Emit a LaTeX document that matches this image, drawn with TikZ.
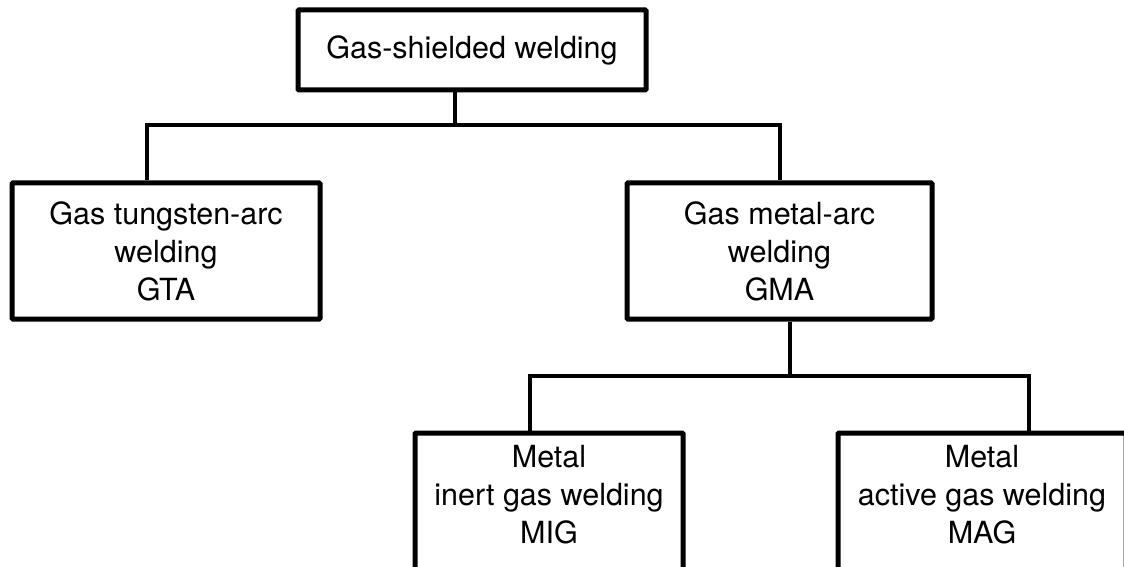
\documentclass[tikz,border=0pt]{standalone}
\usepackage{fontspec}
\setmainfont{TeX Gyre Heros}
\begin{document}
\begin{tikzpicture}[x=1pt,y=1pt,
  box/.style={draw=black, line width=5pt, rounded corners=1pt, fill=white, inner sep=0pt, align=center,
    font=\fontsize{30.5}{38}\selectfont},
  txt/.style={inner sep=0pt, align=center, font=\fontsize{30.5}{38}\selectfont},
  conn/.style={draw=black, line width=4.5pt}]
\useasboundingbox (0,0) rectangle (1124,566);
\clip (0,0) rectangle (1124,566);
\fill[white] (0,0) rectangle (1124,566);
% connector junctions
\coordinate (j1) at (455,441);
\coordinate (a1) at (147,441);
\coordinate (a2) at (780,441);
\coordinate (j2) at (790,190);
\coordinate (b1) at (530,190);
\coordinate (b2) at (1029,190);
% boxes
\node[box, minimum width=348, minimum height=80] (top) at (472,516) {Gas-shielded welding};
\node[box, minimum width=308, minimum height=136] (gta) at (166,315) {Gas tungsten-arc\\welding\\GTA};
\node[box, minimum width=305, minimum height=136] (gma) at (779.5,315) {Gas metal-arc\\welding\\GMA};
\node[box, minimum width=268, minimum height=137] (mig) at (549,64.5) {};
\node[box, minimum width=288, minimum height=137] (mag) at (982,64.5) {};
\node[txt] (migt) at (549,71) {Metal\\inert gas welding\\MIG};
\node[txt] (magt) at (982,71) {Metal\\active gas welding\\MAG};
% connectors
\draw[conn] (top.south -| j1) -- (j1);
\draw[conn] (gta.north -| a1) |- (a2) -- (gma.north -| a2);
\draw[conn] (gma.south -| j2) -- (j2);
\draw[conn] (mig.north -| b1) |- (b2) -- (mag.north -| b2);
\end{tikzpicture}
\end{document}
